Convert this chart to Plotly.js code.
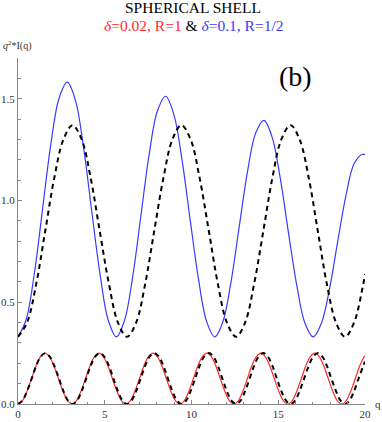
<!DOCTYPE html>
<html>
<head>
<meta charset="utf-8">
<script src="https://cdn.plot.ly/plotly-3.0.1.min.js"></script>
<style>
  html, body { margin: 0; padding: 0; background: #fff; }
  #plot { width: 382px; height: 422px; }
</style>
</head>
<body>
<div id="plot"></div>
<script>
// q^2 * I(q) for a spherical shell

// blue: delta=0.1, R=1/2
const blueQ = [0, 0.47, 0.95, 1.42, 1.89, 2.36, 2.84, 3.31, 3.78, 4.25, 4.73, 5.20,
  5.67, 6.14, 6.62, 7.09, 7.56, 8.03, 8.51, 8.98, 9.45, 9.92, 10.40, 10.87,
  11.34, 11.81, 12.29, 12.76, 13.23, 13.70, 14.18, 14.65, 15.12, 15.59, 16.07, 16.54,
  17.01, 17.48, 17.96, 18.43, 18.90, 19.37, 19.85, 20];
const blueI = [0.330, 0.415, 0.646, 0.961, 1.274, 1.500, 1.581, 1.492, 1.260, 0.947, 0.637, 0.412,
  0.330, 0.411, 0.631, 0.930, 1.226, 1.438, 1.512, 1.423, 1.202, 0.907, 0.616, 0.406,
  0.330, 0.405, 0.606, 0.877, 1.143, 1.332, 1.394, 1.310, 1.107, 0.841, 0.582, 0.397,
  0.330, 0.395, 0.568, 0.800, 1.024, 1.180, 1.227, 1.225];

// black dashed, upper
const dashUpQ = [0, 0.52, 1.05, 1.57, 2.09, 2.62, 3.14, 3.67, 4.19, 4.71, 5.24, 5.76,
  6.28, 6.81, 7.33, 7.85, 8.38, 8.90, 9.42, 9.95, 10.47, 11.00, 11.52, 12.04,
  12.57, 13.09, 13.61, 14.14, 14.66, 15.18, 15.71, 16.23, 16.76, 17.28, 17.80, 18.33,
  18.85, 19.37, 19.90, 20];
const dashUpI = [0.33, 0.40, 0.59, 0.85, 1.11, 1.30, 1.37, 1.30, 1.11, 0.85, 0.59, 0.40,
  0.33, 0.40, 0.59, 0.85, 1.11, 1.30, 1.37, 1.30, 1.11, 0.85, 0.59, 0.40,
  0.33, 0.40, 0.59, 0.85, 1.11, 1.30, 1.37, 1.30, 1.11, 0.85, 0.59, 0.40,
  0.33, 0.40, 0.59, 0.638];

// red: delta=0.02, R=1
const redQ = [0, 0.26, 0.52, 0.78, 1.04, 1.30, 1.56, 1.81, 2.07, 2.33, 2.59, 2.85,
  3.11, 3.37, 3.63, 3.89, 4.15, 4.41, 4.67, 4.92, 5.18, 5.44, 5.70, 5.96,
  6.22, 6.48, 6.74, 7.00, 7.26, 7.52, 7.78, 8.03, 8.29, 8.55, 8.81, 9.07,
  9.33, 9.59, 9.85, 10.11, 10.37, 10.63, 10.89, 11.14, 11.40, 11.66, 11.92, 12.18,
  12.44, 12.70, 12.96, 13.22, 13.48, 13.74, 14.00, 14.25, 14.51, 14.77, 15.03, 15.29,
  15.55, 15.81, 16.07, 16.33, 16.59, 16.85, 17.11, 17.36, 17.62, 17.88, 18.14, 18.40,
  18.66, 18.92, 19.18, 19.44, 19.70, 19.96, 20];
const redI = [0, 0.017, 0.063, 0.125, 0.188, 0.233, 0.25, 0.233, 0.188, 0.125, 0.063, 0.017,
  0, 0.017, 0.063, 0.125, 0.188, 0.233, 0.25, 0.233, 0.188, 0.125, 0.063, 0.017,
  0, 0.017, 0.063, 0.125, 0.188, 0.233, 0.25, 0.233, 0.188, 0.125, 0.063, 0.017,
  0, 0.017, 0.063, 0.125, 0.188, 0.233, 0.25, 0.233, 0.188, 0.125, 0.063, 0.017,
  0, 0.017, 0.063, 0.125, 0.188, 0.233, 0.25, 0.233, 0.188, 0.125, 0.063, 0.017,
  0, 0.017, 0.063, 0.125, 0.188, 0.233, 0.25, 0.233, 0.188, 0.125, 0.063, 0.017,
  0, 0.017, 0.063, 0.125, 0.188, 0.233, 0.236];

// black dashed, lower
const dashLoQ = [0, 0.26, 0.52, 0.79, 1.05, 1.31, 1.57, 1.83, 2.09, 2.36, 2.62, 2.88,
  3.14, 3.40, 3.67, 3.93, 4.19, 4.45, 4.71, 4.97, 5.24, 5.50, 5.76, 6.02,
  6.28, 6.54, 6.81, 7.07, 7.33, 7.59, 7.85, 8.12, 8.38, 8.64, 8.90, 9.16,
  9.42, 9.69, 9.95, 10.21, 10.47, 10.73, 11.00, 11.26, 11.52, 11.78, 12.04, 12.30,
  12.57, 12.83, 13.09, 13.35, 13.61, 13.87, 14.14, 14.40, 14.66, 14.92, 15.18, 15.45,
  15.71, 15.97, 16.23, 16.49, 16.76, 17.02, 17.28, 17.54, 17.80, 18.06, 18.33, 18.59,
  18.85, 19.11, 19.37, 19.63, 19.90, 20];
const dashLoI = [0, 0.017, 0.063, 0.125, 0.188, 0.233, 0.25, 0.233, 0.188, 0.125, 0.063, 0.017,
  0, 0.017, 0.063, 0.125, 0.188, 0.233, 0.25, 0.233, 0.188, 0.125, 0.063, 0.017,
  0, 0.017, 0.063, 0.125, 0.188, 0.233, 0.25, 0.233, 0.188, 0.125, 0.063, 0.017,
  0, 0.017, 0.063, 0.125, 0.188, 0.233, 0.25, 0.233, 0.188, 0.125, 0.063, 0.017,
  0, 0.017, 0.063, 0.125, 0.188, 0.233, 0.25, 0.233, 0.188, 0.125, 0.063, 0.017,
  0, 0.017, 0.063, 0.125, 0.188, 0.233, 0.25, 0.233, 0.188, 0.125, 0.063, 0.017,
  0, 0.017, 0.063, 0.125, 0.188, 0.208];

const xTicks = [0, 5, 10, 15, 20];
const xTickText = ['0', '5', '10', '15', '20'];
const yTicks = [0, 0.5, 1.0, 1.5];
const yTickText = ['0.0', '0.5', '1.0', '1.5'];

const serif = 'Liberation Serif, Times New Roman, serif';

function curve(x, y, color, width, dash) {
    return {
        x: x, y: y,
        mode: 'lines',
        type: 'scatter',
        line: {color: color, width: width, dash: dash, shape: 'spline', smoothing: 1},
        hoverinfo: 'skip'
    };
}

let data = [
    curve(blueQ, blueI, '#3a3aff', 1.2, 'solid'),
    curve(dashUpQ, dashUpI, '#000000', 2, '5px,4px'),
    curve(redQ, redI, '#ff2a2a', 1.2, 'solid'),
    curve(dashLoQ, dashLoI, '#000000', 2, '5px,4px')
];

let axisCommon = {
    showgrid: false,
    zeroline: false,
    showline: true,
    linecolor: '#888',
    linewidth: 1,
    ticks: 'inside',
    ticklen: 4,
    tickcolor: '#888',
    tickfont: {family: serif, size: 11, color: '#333'},
    tickmode: 'array',
    autorange: false,
    fixedrange: true
};

let layout = {
    width: 382,
    height: 422,
    margin: {l: 18, r: 17, t: 58, b: 18},
    paper_bgcolor: '#fff',
    plot_bgcolor: '#fff',
    showlegend: false,
    xaxis: Object.assign({}, axisCommon, {
        range: [0, 20],
        tickvals: xTicks,
        ticktext: xTickText,
        minor: {tickmode: 'linear', tick0: 0, dtick: 1, ticks: 'inside', ticklen: 2.5, tickcolor: '#888'}
    }),
    yaxis: Object.assign({}, axisCommon, {
        range: [0, 1.7],
        tickvals: yTicks,
        ticktext: yTickText,
        minor: {tickmode: 'linear', tick0: 0, dtick: 0.1, ticks: 'inside', ticklen: 2.5, tickcolor: '#888'}
    }),
    annotations: [
        {
            text: 'SPHERICAL SHELL',
            xref: 'paper', yref: 'paper', x: 0.5, y: 1, xshift: 1, yshift: 51,
            xanchor: 'center', yanchor: 'middle', showarrow: false,
            font: {family: serif, size: 15.5, color: '#000'}
        },
        {
            text: '<span style="color:#ff2a2a"><i>δ</i>=0.02, R=1</span> &amp; ' +
                  '<span style="color:#3a3aff"><i>δ</i>=0.1, R=1/2</span>',
            xref: 'paper', yref: 'paper', x: 0.5, y: 1, xshift: 2, yshift: 33,
            xanchor: 'center', yanchor: 'middle', showarrow: false,
            font: {family: serif, size: 15.5, color: '#000'}
        },
        {
            text: '<i>q</i><sup>2</sup>*I(q)',
            xref: 'paper', yref: 'paper', x: 0, y: 1, xshift: -17, yshift: 13,
            xanchor: 'left', yanchor: 'middle', showarrow: false,
            font: {family: serif, size: 10, color: '#333'}
        },
        {
            text: 'q',
            xref: 'paper', yref: 'paper', x: 1, y: 0, xshift: 8, yshift: 0,
            xanchor: 'left', yanchor: 'middle', showarrow: false,
            font: {family: serif, size: 11, color: '#333'}
        },
        {
            text: '(b)',
            xref: 'x', yref: 'y', x: 16.0, y: 1.61,
            xanchor: 'center', yanchor: 'middle', showarrow: false,
            font: {family: serif, size: 28, color: '#000'}
        }
    ]
};

Plotly.newPlot('plot', data, layout, {staticPlot: true, displayModeBar: false});
</script>
</body>
</html>
